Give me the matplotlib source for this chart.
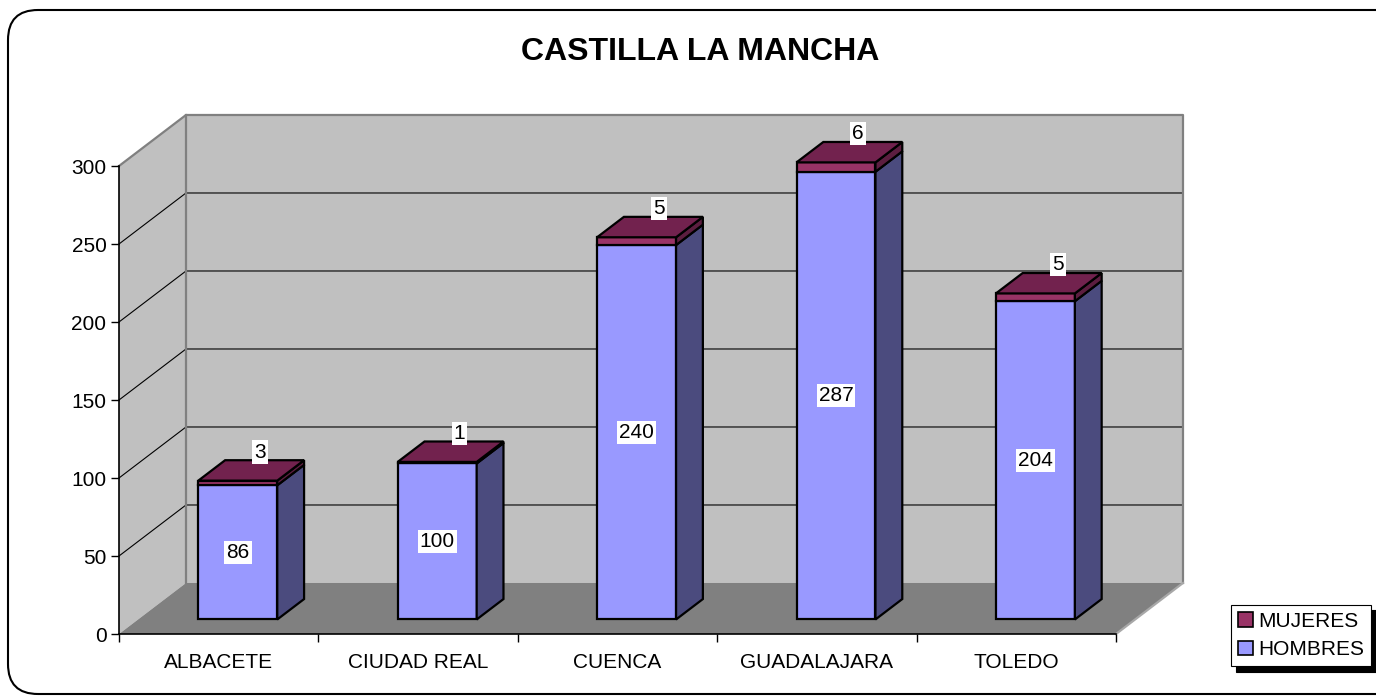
import matplotlib
matplotlib.use('Agg')
import matplotlib.pyplot as plt
from matplotlib.patches import Patch, FancyBboxPatch
from matplotlib.transforms import IdentityTransform

categories = ['ALBACETE', 'CIUDAD REAL', 'CUENCA', 'GUADALAJARA', 'TOLEDO']
hombres = [86, 100, 240, 287, 204]
mujeres = [3, 1, 5, 6, 5]
series_names = ['MUJERES', 'HOMBRES']
title = 'CASTILLA LA MANCHA'
y_ticks = [0, 50, 100, 150, 200, 250, 300]

plt.rcParams['font.family'] = ['Liberation Sans', 'DejaVu Sans']

W, H, DPI = 1376, 700, 100
fig = plt.figure(figsize=(W / DPI, H / DPI), dpi=DPI)
fig.patch.set_facecolor('white')
ax = fig.add_axes([119 / W, (H - 634) / H, 997 / W, 468 / H])
n = len(categories)
x0, x1 = -0.5, n - 0.5
ymax = y_ticks[-1]
ax.set_xlim(x0, x1)
ax.set_ylim(0, ymax)
ax.patch.set_visible(False)

DX = 0.336   # depth offset (category units)
DY = 32.7    # depth offset (value units)
Z0, Z1 = 0.285, 0.685
HW = 0.198

WALL = '#C0C0C0'
FLOOR = '#808080'
EDGE = '#808080'

# back wall
ax.fill([x0 + DX, x1 + DX, x1 + DX, x0 + DX], [DY, DY, ymax + DY, ymax + DY],
        color=WALL, lw=0, zorder=0.2, clip_on=False)
# side wall
ax.fill([x0, x0 + DX, x0 + DX, x0], [0, DY, ymax + DY, ymax],
        color=WALL, lw=0, zorder=0.2, clip_on=False)
# floor
ax.fill([x0, x1, x1 + DX, x0 + DX], [0, 0, DY, DY],
        color=FLOOR, lw=0, zorder=0.3, clip_on=False)
# gridlines
for t in y_ticks[1:-1]:
    ax.plot([x0, x0 + DX, x1 + DX], [t, t + DY, t + DY], color='black',
            lw=0.8, zorder=0.4, clip_on=False, solid_joinstyle='miter')
# wall edges
ax.plot([x0, x0 + DX, x1 + DX, x1 + DX], [ymax, ymax + DY, ymax + DY, DY],
        color=EDGE, lw=1.6, zorder=0.5, clip_on=False)
ax.plot([x0 + DX, x0 + DX], [DY, ymax + DY], color=EDGE, lw=1.6,
        zorder=0.5, clip_on=False)
ax.plot([x1, x1 + DX], [0, DY], color='#A8A8A8', lw=1.6, zorder=0.5,
        clip_on=False)


def box(c, ybot, ytop, front, side, top, zo):
    xl, xr = c - HW, c + HW
    kw = dict(edgecolor='black', lw=1.6, joinstyle='miter', clip_on=False)
    ax.fill([xl + Z0 * DX, xr + Z0 * DX, xr + Z0 * DX, xl + Z0 * DX],
            [ybot + Z0 * DY, ybot + Z0 * DY, ytop + Z0 * DY, ytop + Z0 * DY],
            facecolor=front, zorder=zo, **kw)
    ax.fill([xr + Z0 * DX, xr + Z1 * DX, xr + Z1 * DX, xr + Z0 * DX],
            [ybot + Z0 * DY, ybot + Z1 * DY, ytop + Z1 * DY, ytop + Z0 * DY],
            facecolor=side, zorder=zo, **kw)
    if top is not None:
        ax.fill([xl + Z0 * DX, xr + Z0 * DX, xr + Z1 * DX, xl + Z1 * DX],
                [ytop + Z0 * DY, ytop + Z0 * DY, ytop + Z1 * DY, ytop + Z1 * DY],
                facecolor=top, zorder=zo, **kw)


H_FRONT, H_SIDE = '#9999FF', '#4B4B7E'
M_FRONT, M_SIDE, M_TOP = '#993366', '#5C1E40', '#72224E'
FS = 15
for i, (h, m) in enumerate(zip(hombres, mujeres)):
    box(i, 0, h, H_FRONT, H_SIDE, None, 2 + i * 0.1)
    box(i, h, h + m, M_FRONT, M_SIDE, M_TOP, 2.05 + i * 0.1)
    ax.text(i + Z0 * DX, Z0 * DY + h / 2, str(h), ha='center', va='center',
            fontsize=FS, zorder=5,
            bbox=dict(facecolor='white', edgecolor='none', pad=1.5))
    ax.annotate(str(m), xy=(i + Z0 * DX, Z0 * DY + h + m), xytext=(16, 20.6),
                textcoords='offset points', ha='center', va='center',
                fontsize=FS, zorder=5, annotation_clip=False,
                bbox=dict(facecolor='white', edgecolor='none', pad=1.5))

# axes ticks
ax.set_yticks(y_ticks)
ax.tick_params(axis='y', direction='out', length=6, width=1, labelsize=FS,
               pad=3, colors='black')
ax.set_xticks(range(n))
ax.set_xticklabels(categories)
ax.set_xticks([i - 0.5 for i in range(n + 1)], minor=True)
ax.tick_params(axis='x', which='major', length=0, labelsize=FS, pad=13.5)
ax.tick_params(axis='x', which='minor', direction='out', length=6, width=1)
for s in ['top', 'right']:
    ax.spines[s].set_visible(False)
for s in ['left', 'bottom']:
    ax.spines[s].set_color('black')
    ax.spines[s].set_linewidth(1.2)

fig.text(700 / W, 1 - 52 / H, title, ha='center', va='center', fontsize=23,
         fontweight='bold')

handles = [Patch(facecolor=M_FRONT, edgecolor='black', lw=1.2),
           Patch(facecolor=H_FRONT, edgecolor='black', lw=1.2)]
leg = fig.legend(handles, series_names, loc='center',
                 bbox_to_anchor=(1301 / W, 1 - 635.5 / H), fontsize=FS,
                 frameon=True, fancybox=False,
                 shadow={'color': 'black', 'alpha': 1, 'ox': 4, 'oy': -4},
                 handlelength=0.7, handleheight=0.7, handletextpad=0.25,
                 labelspacing=0.45, borderpad=0.35, borderaxespad=0)
leg.get_frame().set_edgecolor('black')
leg.get_frame().set_linewidth(0.8)

border = FancyBboxPatch((8, 6), 1400, 684, boxstyle='round,pad=0,rounding_size=30',
                        transform=IdentityTransform(), facecolor='none',
                        edgecolor='black', lw=1.5)
fig.add_artist(border)

fig.savefig('out.png', dpi=DPI)
